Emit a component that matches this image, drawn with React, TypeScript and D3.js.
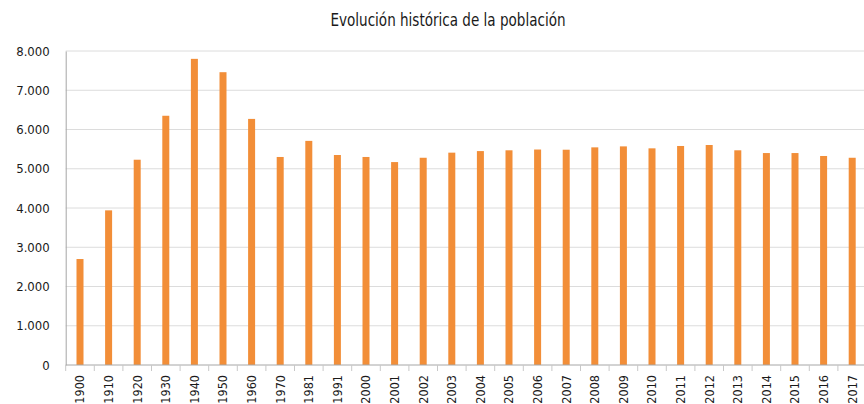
import React, { useEffect, useRef } from "react";
import * as d3 from "d3";

const years = [
  "1900", "1910", "1920", "1930", "1940", "1950", "1960", "1970", "1981", "1991",
  "2000", "2001", "2002", "2003", "2004", "2005", "2006", "2007", "2008", "2009",
  "2010", "2011", "2012", "2013", "2014", "2015", "2016", "2017",
];
const population = [
  2700, 3940, 5230, 6350, 7800, 7460, 6270, 5300, 5710, 5350,
  5300, 5170, 5280, 5410, 5450, 5470, 5490, 5485, 5545, 5570,
  5520, 5580, 5605, 5470, 5400, 5400, 5325, 5280,
];
const yTicks = [0, 1000, 2000, 3000, 4000, 5000, 6000, 7000, 8000];
const title = "Evolución histórica de la población";

const FONT = "'DejaVu Sans Condensed', 'Liberation Sans Narrow', sans-serif";

export default function App() {
  const ref = useRef<SVGSVGElement>(null);

  useEffect(() => {
    const width = 864;
    const height = 404;
    const left = 65.7;
    const right = 866.5;
    const top = 51;
    const bottom = 365;
    const barW = 7;

    const svg = d3.select(ref.current).attr("width", width).attr("height", height);
    svg.selectAll("*").remove();

    const data = years.map((y, i) => ({ year: y, value: population[i] }));

    const x = d3.scaleBand().domain(years).range([left, right]).padding(0);
    const y = d3.scaleLinear().domain([0, 8000]).range([bottom, top]);
    const fmt = (v: number) => d3.format(",")(v).replace(/,/g, ".");

    // gridlines
    svg.append("g").selectAll("line").data(yTicks.filter(t => t > 0)).join("line")
      .attr("x1", left).attr("x2", width)
      .attr("y1", d => y(d)).attr("y2", d => y(d))
      .attr("stroke", "#dcdcdc").attr("stroke-width", 1);

    // y axis
    const yAxis = svg.append("g").attr("transform", `translate(${left},0)`)
      .call(d3.axisLeft(y).tickValues(yTicks).tickSize(0).tickPadding(16).tickFormat(d => fmt(+d)));
    yAxis.select(".domain").attr("stroke", "#a6a6a6");
    yAxis.selectAll("text").attr("font-family", FONT).attr("font-size", 13).attr("fill", "#1a1a1a");

    // bars
    svg.append("g").selectAll("rect").data(data).join("rect")
      .attr("x", d => (x(d.year) as number) + (x.bandwidth() - barW) / 2)
      .attr("width", barW)
      .attr("y", d => y(d.value))
      .attr("height", d => bottom - y(d.value))
      .attr("fill", "#f28e38");

    // x axis baseline + boundary ticks
    const xg = svg.append("g");
    xg.append("line").attr("x1", left).attr("x2", width).attr("y1", bottom).attr("y2", bottom)
      .attr("stroke", "#a6a6a6");
    xg.selectAll("line.tk").data(years).join("line").attr("class", "tk")
      .attr("x1", d => x(d) as number).attr("x2", d => x(d) as number)
      .attr("y1", bottom).attr("y2", bottom + 6)
      .attr("stroke", "#c8c8c8");
    xg.selectAll("text").data(years).join("text")
      .attr("transform", d => `translate(${(x(d) as number) + x.bandwidth() / 2},${bottom + 10}) rotate(-90)`)
      .attr("text-anchor", "end").attr("dy", "0.35em")
      .attr("font-family", FONT).attr("font-size", 12.5).attr("fill", "#1a1a1a")
      .text(d => d);

    // title
    svg.append("text").attr("x", 448).attr("y", 26).attr("text-anchor", "middle")
      .attr("font-family", FONT).attr("font-size", 18).attr("fill", "#1a1a1a")
      .attr("textLength", 235).attr("lengthAdjust", "spacingAndGlyphs")
      .text(title);
  }, []);

  return (
    <div>
      <svg ref={ref} style={{ position: "absolute", left: 0, top: 0, background: "#fff" }} />
    </div>
  );
}
